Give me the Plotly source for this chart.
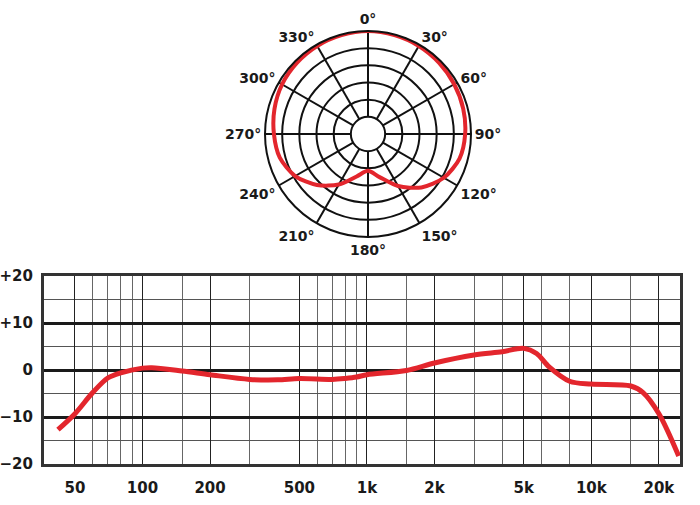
import plotly.graph_objects as go

# polar pick-up pattern, dB relative to on-axis
polar_angles = [0, 15, 30, 45, 60, 75, 90, 105, 120, 135, 150, 165, 180,
                195, 210, 225, 240, 255, 270, 285, 300, 315, 330, 345, 360]
polar_db = [0, -0.2, -0.4, -0.7, -1.0, -1.3, -1.7, -2.4, -4.5, -8.0, -12.5, -17.0, -19.3,
            -17.2, -13.0, -9.0, -5.5, -3.4, -2.6, -1.8, -1.1, -0.7, -0.4, -0.2, 0]
angle_ticks = [0, 30, 60, 90, 120, 150, 180, 210, 240, 270, 300, 330]
ring_vals = [-20, -15, -10, -5]

# frequency response
freq = [42, 50, 60, 70, 80, 100, 110, 150, 200, 300, 400, 500, 700, 800, 900,
        1000, 1500, 2000, 3000, 4000, 5000, 5700, 6500, 8000, 10000,
        15000, 17000, 20000, 24500]
resp = [-12.7, -9.3, -4.8, -1.7, -0.6, 0.4, 0.5, -0.2, -1.0, -2.0, -2.1, -1.8, -2.0, -1.8, -1.5,
        -1.0, -0.1, 1.5, 3.2, 3.9, 4.6, 3.5, 0.6, -2.4, -3.0,
        -3.4, -4.8, -9.3, -18.3]

freq_labels = [50, 100, 200, 500, 1000, 2000, 5000, 10000, 20000]
freq_text = ["50", "100", "200", "500", "1k", "2k", "5k", "10k", "20k"]
freq_minor = [60, 70, 80, 90, 150, 300, 600, 700, 800, 900, 1500, 3000, 4000,
              6000, 8000, 15000]
db_major = [-20, -10, 0, 10, 20]
db_text = ["\u221220", "\u221210", "0", "+10", "+20"]
db_minor = [-15, -5, 5, 15]

RED = "#e3262d"
FONT = dict(family="DejaVu Sans", size=15, color="#1a1a1a", weight="bold")

fig = go.Figure()

fig.add_trace(go.Scatterpolar(
    r=polar_db, theta=polar_angles, mode="lines",
    line=dict(color=RED, width=4, shape="spline", smoothing=0.8),
    showlegend=False, subplot="polar",
))

fig.add_trace(go.Scatter(
    x=freq, y=resp, mode="lines",
    line=dict(color=RED, width=5, shape="spline", smoothing=0.9),
    showlegend=False,
))

fig.update_layout(
    width=700, height=505,
    margin=dict(l=0, r=0, t=0, b=0),
    paper_bgcolor="white", plot_bgcolor="white",
    polar=dict(
        domain=dict(x=[265 / 700, 471 / 700], y=[1 - 237 / 505, 1 - 31 / 505]),
        hole=1 / 6,
        bgcolor="white",
        angularaxis=dict(
            rotation=90, direction="clockwise",
            tickmode="array", tickvals=angle_ticks,
            ticktext=[f"{a}°" for a in angle_ticks],
            ticks="", showline=True, linecolor="#111", linewidth=2,
            gridcolor="#111", gridwidth=1.5,
            tickfont=dict(family="DejaVu Sans", size=14, color="#1a1a1a", weight="bold"),
        ),
        radialaxis=dict(
            range=[-25, 0], tickmode="array", tickvals=ring_vals,
            showticklabels=False, ticks="", showline=False,
            gridcolor="#111", gridwidth=1.5,
        ),
    ),
    xaxis=dict(
        type="log", range=[1.561, 4.395],
        domain=[44 / 700, 680 / 700], automargin=False,
        tickmode="array", tickvals=freq_labels, ticktext=freq_text,
        showgrid=True, gridcolor="#222", gridwidth=1.2,
        minor=dict(tickmode="array", tickvals=freq_minor, showgrid=True,
                   gridcolor="#666", gridwidth=1.2, ticks=""),
        showline=True, mirror=True, linecolor="#333", linewidth=3,
        ticks="", ticklabelstandoff=8, tickfont=FONT, zeroline=False,
    ),
    yaxis=dict(
        range=[-20, 20], domain=[1 - 464 / 505, 1 - 276 / 505], automargin=False,
        tickmode="array", tickvals=db_major, ticktext=db_text,
        showgrid=True, gridcolor="#1a1a1a", gridwidth=3,
        minor=dict(tickmode="array", tickvals=db_minor, showgrid=True,
                   gridcolor="#555", gridwidth=1.2, ticks=""),
        showline=True, mirror=True, linecolor="#333", linewidth=3,
        ticks="", ticklabelstandoff=5, tickfont=FONT, zeroline=False,
    ),
)

fig.write_html("out.html", config={"displayModeBar": False},
               post_script="document.body.style.margin='0';")
